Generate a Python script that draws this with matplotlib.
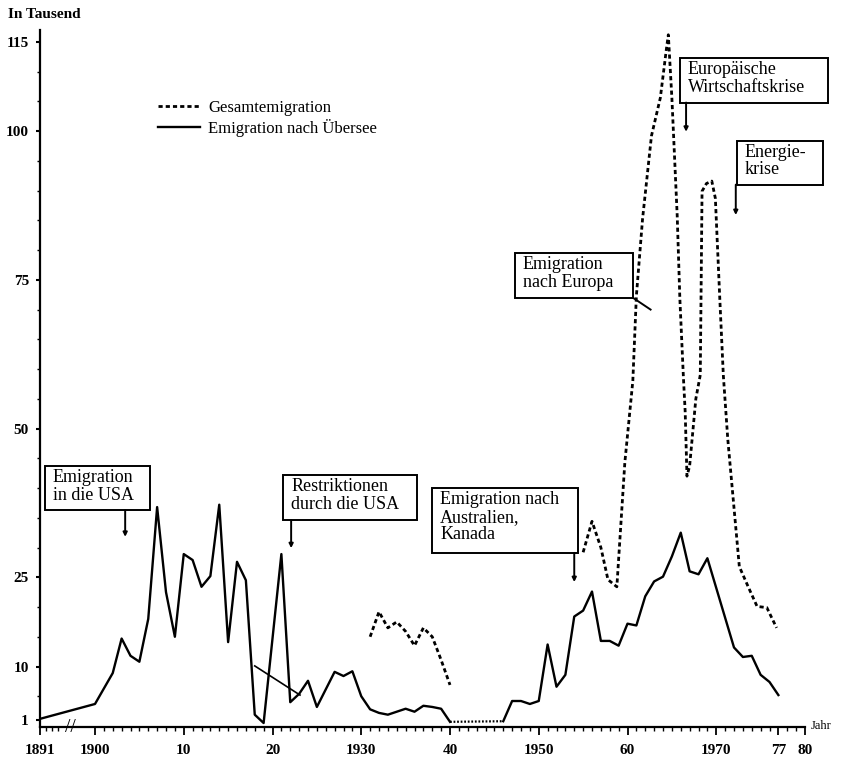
import numpy as np
import matplotlib
matplotlib.use("Agg")
import matplotlib.pyplot as plt
from matplotlib.patches import Rectangle

# Emigration nach Uebersee (in Tausend)
jahre_uebersee = [1891, 1900, 1902, 1903, 1904, 1905, 1906, 1907, 1908, 1909,
                  1910, 1911, 1912, 1913, 1914, 1915, 1916, 1917, 1918, 1919,
                  1921, 1922, 1923, 1924, 1925, 1927, 1928, 1929, 1930, 1931,
                  1932, 1933, 1935, 1936, 1937, 1938, 1939, 1940]
werte_uebersee = [1.2, 3.7, 8.9, 14.7, 11.8, 10.8, 18.0, 36.8, 22.5, 15.0,
                  28.9, 27.9, 23.4, 25.2, 37.2, 14.1, 27.6, 24.5, 1.9, 0.5,
                  28.9, 4.0, 5.4, 7.6, 3.2, 9.1, 8.4, 9.2, 5.0, 2.8,
                  2.2, 1.9, 2.9, 2.4, 3.4, 3.2, 2.9, 0.7]
jahre_uebersee2 = [1946, 1947, 1948, 1949, 1950, 1951, 1952, 1953, 1954, 1955,
                   1956, 1957, 1958, 1959, 1960, 1961, 1962, 1963, 1964, 1965,
                   1966, 1967, 1968, 1969, 1972, 1973, 1974, 1975, 1976, 1977]
werte_uebersee2 = [0.8, 4.2, 4.2, 3.7, 4.2, 13.7, 6.6, 8.6, 18.4, 19.4,
                   22.6, 14.3, 14.3, 13.5, 17.2, 16.9, 21.8, 24.3, 25.1, 28.5,
                   32.5, 26.0, 25.5, 28.2, 13.2, 11.6, 11.8, 8.6, 7.4, 5.2]
# Kriegsjahre ohne Angaben (gepunktet)
jahre_luecke = [1940, 1946]
werte_luecke = [0.7, 0.8]

# Gesamtemigration
jahre_gesamt1 = [1931, 1932, 1933, 1934, 1935, 1936, 1937, 1938, 1939, 1940]
werte_gesamt1 = [15.0, 19.2, 16.5, 17.5, 15.9, 13.5, 16.5, 15.0, 11.1, 6.9]
jahre_gesamt2 = [1955, 1956, 1957, 1957.8, 1958.8, 1959.7, 1960.6, 1961.0, 1961.7,
                 1962.7, 1963.7, 1964.4, 1964.6, 1965.0, 1965.6, 1965.9, 1966.3,
                 1966.5, 1966.7, 1967.0, 1967.7, 1968.2, 1968.4, 1968.9, 1969.5,
                 1969.9, 1970.4, 1970.8, 1971.3, 1972.6, 1973.6, 1974.6, 1975.7,
                 1976.8]
werte_gesamt2 = [29.2, 34.4, 30.0, 24.6, 23.4, 44.3, 58.0, 72.3, 85.3,
                 99.2, 105.6, 114.0, 116.2, 105.6, 85.8, 71.8, 58.6,
                 52.8, 42.0, 43.7, 55.0, 59.0, 89.9, 91.2, 91.6,
                 88.7, 71.8, 58.9, 48.2, 26.8, 23.4, 20.1, 19.9,
                 16.5]

x_ticks = [1891, 1900, 1910, 1920, 1930, 1940, 1950, 1960, 1970, 1977, 1980]
x_labels = ["1891", "1900", "10", "20", "1930", "40", "1950", "60", "1970", "77", "80"]
y_ticks = [1, 10, 25, 50, 75, 100, 115]

# text, box (x0, x1, y0, y1), text anchor, arrow (x, y_from, y_to)
notizen = [
    ("Emigration\nin die USA", (1891.8, 1906.2, 36.3, 43.7), (1893.1, 43.2), (1903.4, 36.3, 31.8)),
    ("Restriktionen\ndurch die USA", (1921.2, 1936.3, 34.6, 42.2), (1922.1, 41.7), (1922.1, 34.6, 29.9)),
    ("Emigration nach\nAustralien,\nKanada", (1938.0, 1954.4, 29.1, 40.0), (1938.9, 39.5), (1954.0, 29.1, 24.2)),
    ("Europäische\nWirtschaftskrise", (1965.9, 1982.6, 104.8, 112.3), (1966.8, 111.8), (1966.6, 104.8, 99.9)),
    ("Energie-\nkrise", (1972.3, 1982.0, 91.0, 98.4), (1973.2, 97.9), (1972.2, 91.0, 85.9)),
]
box_europa = (1947.3, 1960.6, 72.0, 79.5)

plt.rcParams['font.family'] = ['Liberation Serif', 'DejaVu Serif']

K = 55 / 8.875 / 9   # gestauchter Bereich 1891-1900


def fwd(x):
    x = np.asarray(x, dtype=float)
    return np.where(x < 1900, 1900 - (1900 - x) * K, x)


def inv(x):
    x = np.asarray(x, dtype=float)
    return np.where(x < 1900, 1900 - (1900 - x) / K, x)


fig = plt.figure(figsize=(8.47, 7.61), dpi=100)
ax = fig.add_axes([40 / 847, 1 - 727 / 761, 765 / 847, 697 / 761])
ax.set_xscale('function', functions=(fwd, inv))
ax.set_xlim(1891, 1980)
ax.set_ylim(-0.17, 117)

dash = (0, (1.5, 1.1))
ax.plot(jahre_uebersee, werte_uebersee, color='black', lw=1.7,
        label='Emigration nach Übersee')
ax.plot(jahre_uebersee2, werte_uebersee2, color='black', lw=1.7)
ax.plot(jahre_luecke, werte_luecke, color='black', lw=1.6, linestyle=(0, (0.8, 0.8)))
ax.plot(jahre_gesamt1, werte_gesamt1, color='black', lw=2.0, linestyle=dash)
ax.plot(jahre_gesamt2, werte_gesamt2, color='black', lw=2.0, linestyle=dash,
        label='Gesamtemigration')

# Hinweislinie
ax.plot([1918.0, 1923.1], [10.1, 5.2], color='black', lw=1.2)

for text, (x0, x1, y0, y1), (tx, ty), (ax_x, ay0, ay1) in notizen:
    ax.add_patch(Rectangle((x0, y0), x1 - x0, y1 - y0, facecolor='white',
                           edgecolor='black', lw=1.4, zorder=3, clip_on=False))
    ax.text(tx, ty, text, ha='left', va='top', fontsize=13, linespacing=1.05,
            zorder=4, clip_on=False)
    ax.annotate("", xy=(ax_x, ay1), xytext=(ax_x, ay0),
                arrowprops=dict(arrowstyle='-|>', lw=1.4, color='black',
                                mutation_scale=6, shrinkA=0, shrinkB=0))

x0, x1, y0, y1 = box_europa
ax.add_patch(Rectangle((x0, y0), x1 - x0, y1 - y0, facecolor='white',
                       edgecolor='black', lw=1.4, zorder=3))
ax.text(x0 + 0.9, y1 - 0.5, "Emigration\nnach Europa", ha='left', va='top',
        fontsize=13, linespacing=1.05, zorder=4)
ax.plot([x1, x1 + 2.0], [y0, y0 - 2.0], color='black', lw=1.4)

handles, labels = ax.get_legend_handles_labels()
ax.legend(handles[::-1], labels[::-1], loc='upper left',
          bbox_to_anchor=(0.144, 0.912), frameon=False, fontsize=12,
          handlelength=2.5, handletextpad=0.5, labelspacing=0.2, borderpad=0)

for s in ['top', 'right']:
    ax.spines[s].set_visible(False)
ax.spines['left'].set_linewidth(1.6)
ax.spines['bottom'].set_linewidth(1.6)

ax.set_xticks(x_ticks)
ax.set_xticklabels(x_labels, fontsize=11, fontweight='bold')
ax.set_xticks(list(range(1892, 1895)) + list(range(1900, 1980)), minor=True)
ax.tick_params(axis='x', which='major', direction='out', length=6, width=1.3, pad=6)
ax.tick_params(axis='x', which='minor', direction='out', length=3, width=1.0)

ax.set_yticks(y_ticks)
ax.set_yticklabels([str(v) for v in y_ticks], fontsize=11, fontweight='bold')
ax.set_yticks(list(range(5, 116, 5)), minor=True)
ax.tick_params(axis='y', which='major', direction='out', length=3, width=1.5, pad=5)
ax.tick_params(axis='y', which='minor', direction='out', length=2, width=1.0)

# Achsenbruch
ax.text(1895.9, -0.17, "//", ha='center', va='center', fontsize=14,
        clip_on=False)

fig.text(8 / 847, 1 - 15 / 761, "In Tausend", fontsize=11, fontweight='bold',
         va='center', ha='left')
fig.text(811 / 847, 1 - 726 / 761, "Jahr", fontsize=9, va='center', ha='left')

fig.savefig('out.png', dpi=100)
